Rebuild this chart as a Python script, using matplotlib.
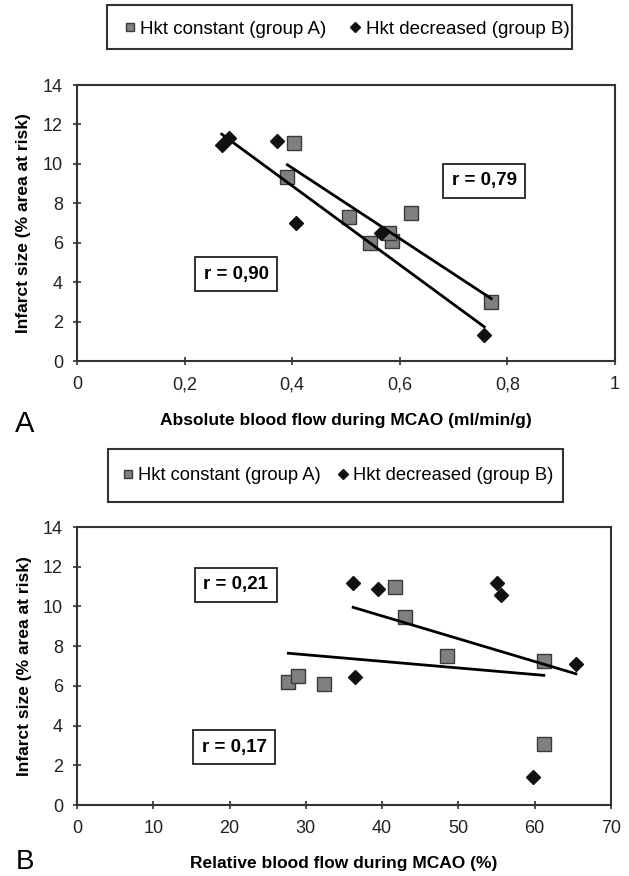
import numpy as np
import matplotlib
matplotlib.use("Agg")
import matplotlib.pyplot as plt
from matplotlib.lines import Line2D
from matplotlib.patches import Rectangle

# Panel A: absolute blood flow (ml/min/g) vs infarct size
a_const_x = [0.404, 0.391, 0.506, 0.621, 0.545, 0.585, 0.580, 0.770]
a_const_y = [11.07, 9.34, 7.3, 7.5, 6.0, 6.1, 6.5, 3.0]
a_decr_x = [0.269, 0.283, 0.372, 0.407, 0.565, 0.757]
a_decr_y = [10.96, 11.3, 11.17, 7.0, 6.5, 1.3]

# Panel B: relative blood flow (%) vs infarct size
b_const_x = [27.7, 29.0, 32.4, 41.7, 43.0, 48.5, 61.2, 61.2]
b_const_y = [6.2, 6.5, 6.1, 11.0, 9.45, 7.5, 7.25, 3.05]
b_decr_x = [36.2, 36.4, 39.4, 55.1, 55.6, 65.4, 59.8]
b_decr_y = [11.2, 6.45, 10.9, 11.2, 10.6, 7.1, 1.4]

a_xticks = [0, 0.2, 0.4, 0.6, 0.8, 1.0]
a_xticklabels = ["0", "0,2", "0,4", "0,6", "0,8", "1"]
b_xticks = [0, 10, 20, 30, 40, 50, 60, 70]
yticks = [0, 2, 4, 6, 8, 10, 12, 14]

a_r_labels = ["r = 0,79", "r = 0,90"]
a_r_pos = [(0.757, 9.14), (0.296, 4.4)]
b_r_labels = ["r = 0,21", "r = 0,17"]
b_r_pos = [(20.8, 11.1), (20.6, 2.9)]

label_const = "Hkt constant (group A)"
label_decr = "Hkt decreased (group B)"

plt.rcParams['font.family'] = ['Liberation Sans', 'DejaVu Sans']

W, H = 629, 876

SQ = dict(marker='s', linestyle='none', markersize=10.5, markerfacecolor='#808080',
          markeredgecolor='#3a3a3a', markeredgewidth=1.0)
DI = dict(marker='D', linestyle='none', markersize=7.6, markerfacecolor='#111111',
          markeredgecolor='#111111')


def fit_line(ax, xs, ys):
    k, b = np.polyfit(xs, ys, 1)
    xx = np.array([min(xs), max(xs)])
    ax.plot(xx, k * xx + b, color='black', linewidth=2.0, zorder=4)


def style_axes(ax, xmax, xticks, xticklabels=None):
    ax.set_xlim(0, xmax)
    ax.set_ylim(0, 14)
    ax.set_xticks(xticks)
    if xticklabels is not None:
        ax.set_xticklabels(xticklabels)
    ax.set_yticks(yticks)
    for sp in ax.spines.values():
        sp.set_color('#333333')
        sp.set_linewidth(1.5)
    ax.tick_params(direction='inout', length=6, width=1.2, color='#333333',
                   labelsize=13, labelcolor='#222222')
    ax.tick_params(axis='x', pad=8)
    ax.tick_params(axis='y', pad=7)
    ax.set_ylabel("Infarct size (% area at risk)", fontsize=12.5, fontweight='bold')
    ax.yaxis.set_label_coords(-0.085, 0.5)


def r_box(ax, txt, xy):
    ax.text(xy[0], xy[1], txt, ha='center', va='center', fontsize=13.5,
            fontweight='bold', zorder=6,
            bbox=dict(boxstyle='square,pad=0.45', fc='white', ec='#222222', lw=1.3))


fig = plt.figure(figsize=(6.29, 8.76), dpi=100)

# ---- panel A ----
axA = fig.add_axes([77 / W, 1 - 361 / H, 538 / W, 276 / H])
axA.plot(a_const_x, a_const_y, zorder=3, **SQ)
axA.plot(a_decr_x, a_decr_y, zorder=5, **DI)
fit_line(axA, a_const_x, a_const_y)
fit_line(axA, a_decr_x, a_decr_y)
style_axes(axA, 1.0, a_xticks, a_xticklabels)
axA.set_xlabel("Absolute blood flow during MCAO (ml/min/g)", fontsize=12.5,
               fontweight='bold')
axA.xaxis.set_label_coords(0.5, -0.19)
for txt, xy in zip(a_r_labels, a_r_pos):
    r_box(axA, txt, xy)

# ---- panel B ----
axB = fig.add_axes([77 / W, 1 - 805 / H, 534 / W, 278 / H])
axB.plot(b_const_x, b_const_y, zorder=3, **SQ)
axB.plot(b_decr_x, b_decr_y, zorder=5, **DI)
fit_line(axB, b_const_x, b_const_y)
fit_line(axB, b_decr_x, b_decr_y)
style_axes(axB, 70, b_xticks)
axB.set_xlabel("Relative blood flow during MCAO (%)", fontsize=12.5,
               fontweight='bold')
axB.xaxis.set_label_coords(0.5, -0.185)
for txt, xy in zip(b_r_labels, b_r_pos):
    r_box(axB, txt, xy)

# panel letters
fig.text(25 / W, 1 - 432 / H, "A", fontsize=21, ha='center', va='baseline')
fig.text(25 / W, 1 - 869 / H, "B", fontsize=20, ha='center', va='baseline')

# legends (frame drawn separately so the box can match the original)
handles = [Line2D([], [], marker='s', linestyle='none', markersize=6,
                  markerfacecolor='#808080', markeredgecolor='#3a3a3a'),
           Line2D([], [], marker='D', linestyle='none', markersize=5,
                  markerfacecolor='#111111', markeredgecolor='#111111')]
legend_boxes = [((107, 5, 465, 44), 125, 29, 13.5, 1.3),
                ((108, 449, 455, 53), 123, 476, 13.2, 1.0)]
for (bx, by, bw, bh), lx, ly, fs, cs in legend_boxes:
    fig.legend(handles, [label_const, label_decr], loc='center left',
               bbox_to_anchor=(lx / W, 1 - ly / H), ncol=2, fontsize=fs,
               frameon=False, handlelength=0.5, handletextpad=0.3,
               columnspacing=cs, borderpad=0, borderaxespad=0)
    fig.add_artist(Rectangle((bx / W, 1 - (by + bh) / H), bw / W, bh / H,
                             transform=fig.transFigure, fill=False,
                             edgecolor='#333333', linewidth=1.5))

fig.savefig("out.png", dpi=100)
